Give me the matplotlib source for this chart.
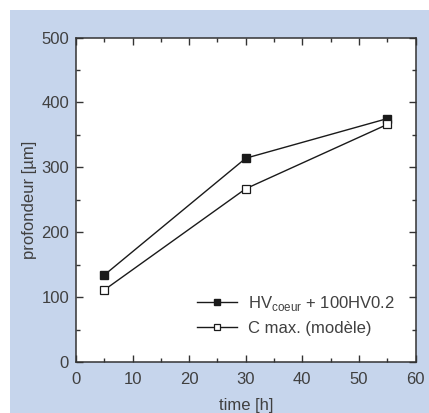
import matplotlib
matplotlib.use("Agg")
import matplotlib.pyplot as plt
from matplotlib.patches import Rectangle
from matplotlib.ticker import MultipleLocator

# données
temps = [5, 30, 55]
hv_coeur = [134, 314, 375]
c_max = [111, 267, 366]

plt.rcParams['font.family'] = ['Liberation Sans', 'DejaVu Sans']
plt.rcParams['mathtext.fontset'] = 'custom'
plt.rcParams['mathtext.rm'] = 'Liberation Sans'
gris = '#404040'

fig = plt.figure(figsize=(4.29, 4.13), dpi=100)
fig.patch.set_facecolor('white')
# fond bleu derrière le graphique
fig.patches.append(Rectangle((10 / 429, 0), 419 / 429, 403 / 413,
                             transform=fig.transFigure, facecolor='#c6d5ec',
                             edgecolor='none', zorder=-10))

ax = fig.add_axes([76 / 429, 1 - 362 / 413, 339.5 / 429, 324.5 / 413])
ax.set_facecolor('white')

ax.plot(temps, hv_coeur, '-s', color='#1a1a1a', lw=1.0, ms=5.5,
        mfc='#1a1a1a', mec='#1a1a1a', label=r'HV$_{\mathrm{coeur}}$ + 100HV0.2')
ax.plot(temps, c_max, '-s', color='#1a1a1a', lw=1.0, ms=5.5,
        mfc='white', mec='#1a1a1a', mew=0.9, label='C max. (modèle)')

ax.set_xlim(0, 60)
ax.set_ylim(0, 500)
ax.xaxis.set_major_locator(MultipleLocator(10))
ax.xaxis.set_minor_locator(MultipleLocator(5))
ax.yaxis.set_major_locator(MultipleLocator(100))
ax.yaxis.set_minor_locator(MultipleLocator(50))
ax.tick_params(which='both', direction='in', top=True, right=True,
               colors='#333333', labelcolor=gris, labelsize=12)
ax.tick_params(which='major', length=5, width=1, pad=5)
ax.tick_params(axis='x', which='major', pad=7)
ax.tick_params(which='minor', length=3, width=1)
for s in ax.spines.values():
    s.set_color('#333333')
    s.set_linewidth(1.1)

ax.set_xlabel('time [h]', color=gris, fontsize=12, labelpad=8)
ax.set_ylabel('profondeur [µm]', color=gris, fontsize=12, labelpad=3)

leg = ax.legend(loc='lower right', frameon=False, fontsize=12,
                handlelength=2.4, handletextpad=0.7, labelspacing=0.45,
                bbox_to_anchor=(0.985, 0.035), markerscale=0.9)
for t in leg.get_texts():
    t.set_color(gris)

fig.savefig('out.png', dpi=100)
